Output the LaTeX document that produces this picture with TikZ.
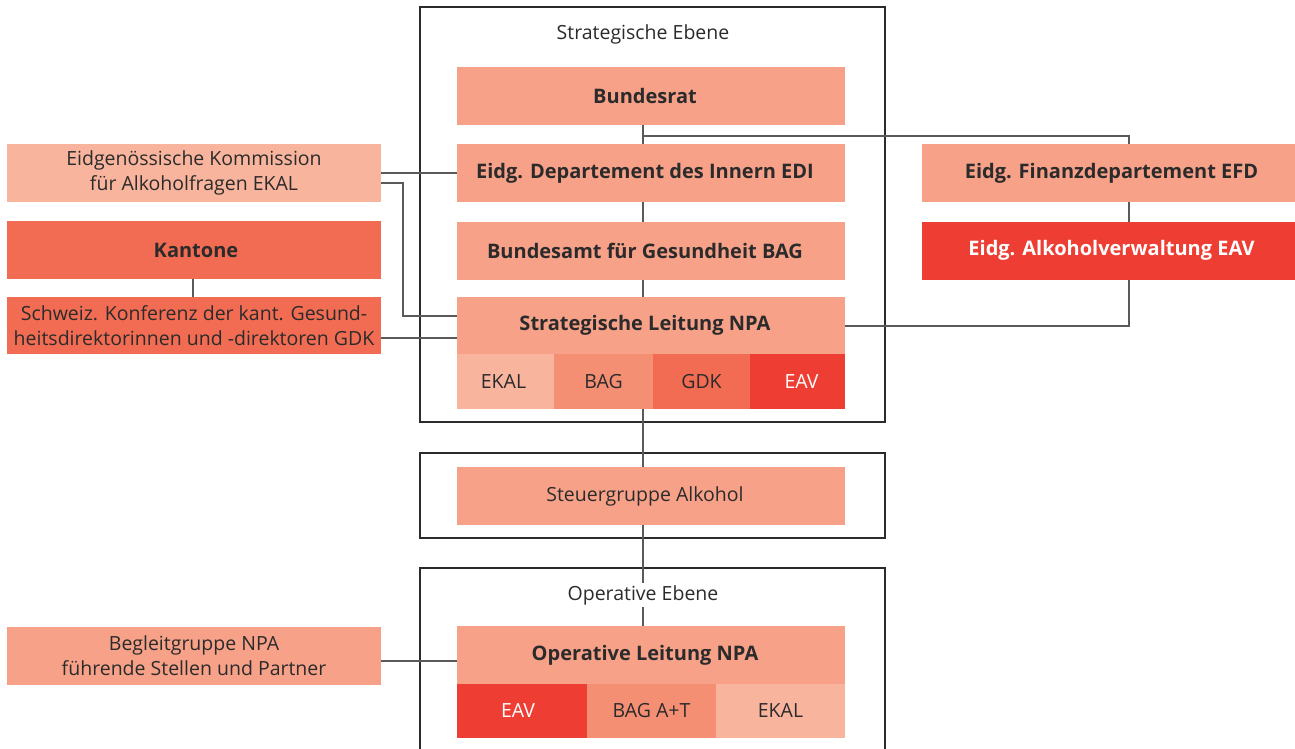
\documentclass[tikz,border=0pt]{standalone}
\usepackage{fontspec}
\setmainfont{Open Sans}
\definecolor{salmon}{HTML}{F7A189}
\definecolor{light}{HTML}{F8B49D}
\definecolor{mid}{HTML}{F48F74}
\definecolor{dark}{HTML}{F16C52}
\definecolor{red}{HTML}{EE3E34}
\definecolor{txt}{HTML}{2B2B2B}
\definecolor{ln}{HTML}{5A5A5A}
\newcommand{\shl}[1]{\hspace*{-12pt}#1}
\begin{document}
\begin{tikzpicture}[x=1pt,y=-1pt,
  rfont/.style={font=\fontsize{19.5}{25}\selectfont},
  bfont/.style={font=\bfseries\fontsize{20}{25}\selectfont},
  box/.style={rectangle,fill=salmon,inner sep=0pt,minimum width=388pt,minimum height=58pt,text=txt,rfont,align=center},
  sbox/.style={box,minimum width=374pt},
  cell/.style={rectangle,inner sep=0pt,minimum height=55pt,text=txt,rfont},
  frame/.style={draw=txt,line width=1.2pt},
  conn/.style={draw=ln,line width=1.2pt},
  lbl/.style={text=txt,rfont,inner sep=2pt}]
\useasboundingbox (0,0) rectangle (1295,749);
\fill[white] (0,0) rectangle (1295,749);
% frames
\draw[frame] (420,7) rectangle (885,422);
\draw[frame] (420,453) rectangle (885,538);
\draw[frame] (420,760) -- (420,568) -- (885,568) -- (885,760);
% nodes
\node[box,bfont] (bundesrat) at (651,96) {\shl{Bundesrat}};
\node[box,bfont] (edi) at (651,173) {\shl{Eidg. Departement des Innern EDI}};
\node[box,bfont] (bag) at (651,251) {\shl{Bundesamt für Gesundheit BAG}};
\node[box,minimum height=57pt,bfont] (sl) at (651,325.5) {\shl{Strategische Leitung NPA}};
\node[cell,fill=light,minimum width=97pt] (c1) at (505.5,381.5) {\hspace*{-4pt}EKAL};
\node[cell,fill=mid,minimum width=99pt] (c2) at (603.5,381.5) {BAG};
\node[cell,fill=dark,minimum width=97pt] (c3) at (701.5,381.5) {GDK};
\node[cell,fill=red,minimum width=95pt,text=white] (c4) at (797.5,381.5) {EAV\hspace*{-8pt}};
\node[box] (steuer) at (651,496) {\shl{Steuergruppe Alkohol}};
\node[box,bfont] (opl) at (651,655) {\shl{Operative Leitung NPA}};
\node[cell,fill=red,minimum width=130pt,minimum height=54pt,text=white] (d1) at (522,711) {\hspace*{-8pt}EAV};
\node[cell,fill=mid,minimum width=129pt,minimum height=54pt] (d2) at (651.5,711) {BAG A+T};
\node[cell,fill=light,minimum width=129pt,minimum height=54pt] (d3) at (780.5,711) {EKAL};
\node[lbl] (strat) at (643,34) {Strategische Ebene};
% connectors
\coordinate (br) at ([xshift=-8pt]bundesrat.south);
\coordinate (j1) at (643,136);
\coordinate (j2) at (1129,136);
\coordinate (j3) at (1129,326);
\coordinate (k1) at (403,183);
\coordinate (k2) at (403,316);
\draw[conn] (br) -- ([xshift=-8pt]edi.north);
\draw[conn] ([xshift=-8pt]edi.south) -- ([xshift=-8pt]bag.north);
\draw[conn] ([xshift=-8pt]bag.south) -- ([xshift=-8pt]sl.north);
\draw[conn] (j1) -- (j2) -- (j3) -- (sl.east |- j3);
\draw[conn] (c2.south -| br) -- ([xshift=-8pt]steuer.north);
\draw[conn] ([xshift=-8pt]steuer.south) -- ([xshift=-8pt]opl.north);
\node[lbl,fill=white] (ope) at (643,595) {Operative Ebene};
% left and right boxes
\node[sbox,fill=light] (ekal) at (194,173) {Eidgenössische Kommission\\für Alkoholfragen EKAL};
\node[sbox,fill=dark,bfont] (kant) at (194,250) {\hspace*{4pt}Kantone};
\node[sbox,fill=dark,minimum height=57pt] (gdk) at (194,325.5) {Schweiz. Konferenz der kant. Gesund-\\heitsdirektorinnen und -direktoren GDK};
\node[sbox] (begl) at (194,656) {Begleitgruppe NPA\\führende Stellen und Partner};
\node[box,minimum width=373pt,bfont] (efd) at (1108.5,173) {\hspace*{6pt}Eidg. Finanzdepartement EFD};
\node[box,minimum width=373pt,fill=red,text=white,bfont] (eav) at (1108.5,250.5) {\hspace*{6pt}Eidg. Alkoholverwaltung EAV};
\draw[conn] (ekal.east) -- (edi.west);
\draw[conn] (ekal.east |- k1) -- (k1) -- (k2) -- (sl.west |- k2);
\draw[conn] (kant.south -| 193,0) -- (gdk.north -| 193,0);
\draw[conn] (gdk.east |- 0,338) -- (sl.west |- 0,338);
\draw[conn] (begl.east |- 0,661) -- (opl.west |- 0,661);
\end{tikzpicture}
\end{document}
